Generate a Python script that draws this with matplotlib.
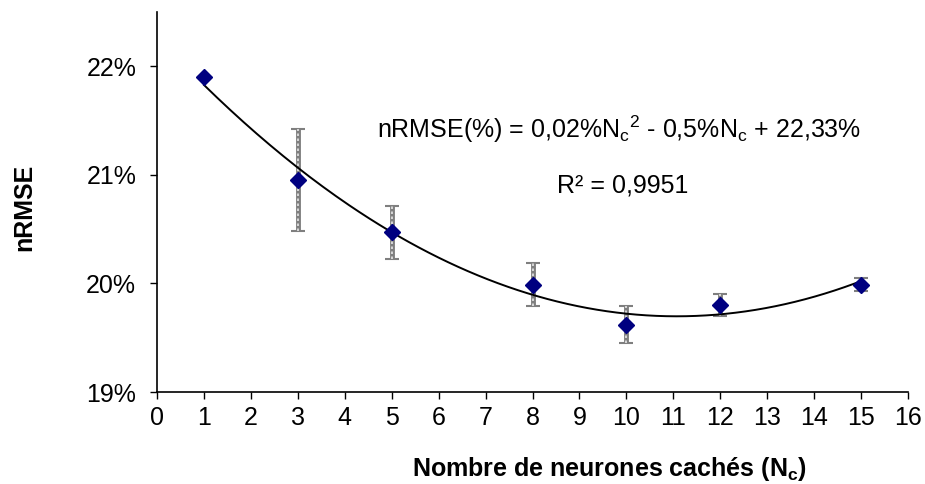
import matplotlib
matplotlib.use("Agg")
import matplotlib.pyplot as plt
import numpy as np
from matplotlib.ticker import FuncFormatter

plt.rcParams['font.family'] = ['Liberation Sans', 'DejaVu Sans']

# data (nRMSE in %)
nc = [1, 3, 5, 8, 10, 12, 15]
nrmse = [21.90, 20.95, 20.47, 19.99, 19.62, 19.80, 19.99]
err = [0.0, 0.47, 0.245, 0.20, 0.17, 0.10, 0.06]

fig = plt.figure(figsize=(9.25, 4.84), dpi=100)
ax = fig.add_axes([157/925, 92/484, 751/925, 380/484])

# error bars: grey outline with a lighter dashed core
ax.errorbar(nc, nrmse, yerr=err, fmt='none', ecolor='#7f7f7f', elinewidth=3.5,
            capsize=4.7, capthick=1.5, zorder=2)
eb = ax.errorbar(nc, nrmse, yerr=err, fmt='none', ecolor='#e6e6e6', elinewidth=1.2,
                 capsize=0, zorder=3)
eb[2][0].set_linestyle((0, (1.5, 1.5)))

# quadratic trend line
coef = np.polyfit(nc, nrmse, 2)
xs = np.linspace(min(nc), max(nc), 200)
ax.plot(xs, np.polyval(coef, xs), color='black', lw=1.4, zorder=4)

ax.plot(nc, nrmse, 'D', color='#000080', markersize=8.5, zorder=5)

ax.set_xlim(0, 16)
ax.set_ylim(19, 22.5)
ax.set_xticks(range(0, 17))
ax.set_yticks([19, 20, 21, 22])
ax.yaxis.set_major_formatter(FuncFormatter(lambda v, p: "%d%%" % v))
ax.spines['top'].set_visible(False)
ax.spines['right'].set_visible(False)
ax.spines['left'].set_linewidth(1.2)
ax.spines['bottom'].set_linewidth(1.2)
ax.tick_params(axis='both', labelsize=18, length=5, width=1, direction='out')
ax.tick_params(axis='x', pad=5)
ax.tick_params(axis='y', pad=10)

ax.text(9.84, 21.42, r"nRMSE(%) = 0,02%N$_\mathregular{c}$$^\mathregular{2}$ - 0,5%N$_\mathregular{c}$ + 22,33%",
        fontsize=18, ha='center', va='center')
ax.text(8.52, 20.9, "R² = 0,9951", fontsize=18, ha='left', va='center')

fig.text(609/925, 1 - 469/484, r"Nombre de neurones cachés (N$_\mathregular{c}$)",
         fontsize=18, fontweight='bold', ha='center', va='center')
fig.text(24/925, 1 - 207/484, "nRMSE", fontsize=18, fontweight='bold',
         rotation=90, ha='center', va='center')

fig.savefig("out.png", dpi=100)
